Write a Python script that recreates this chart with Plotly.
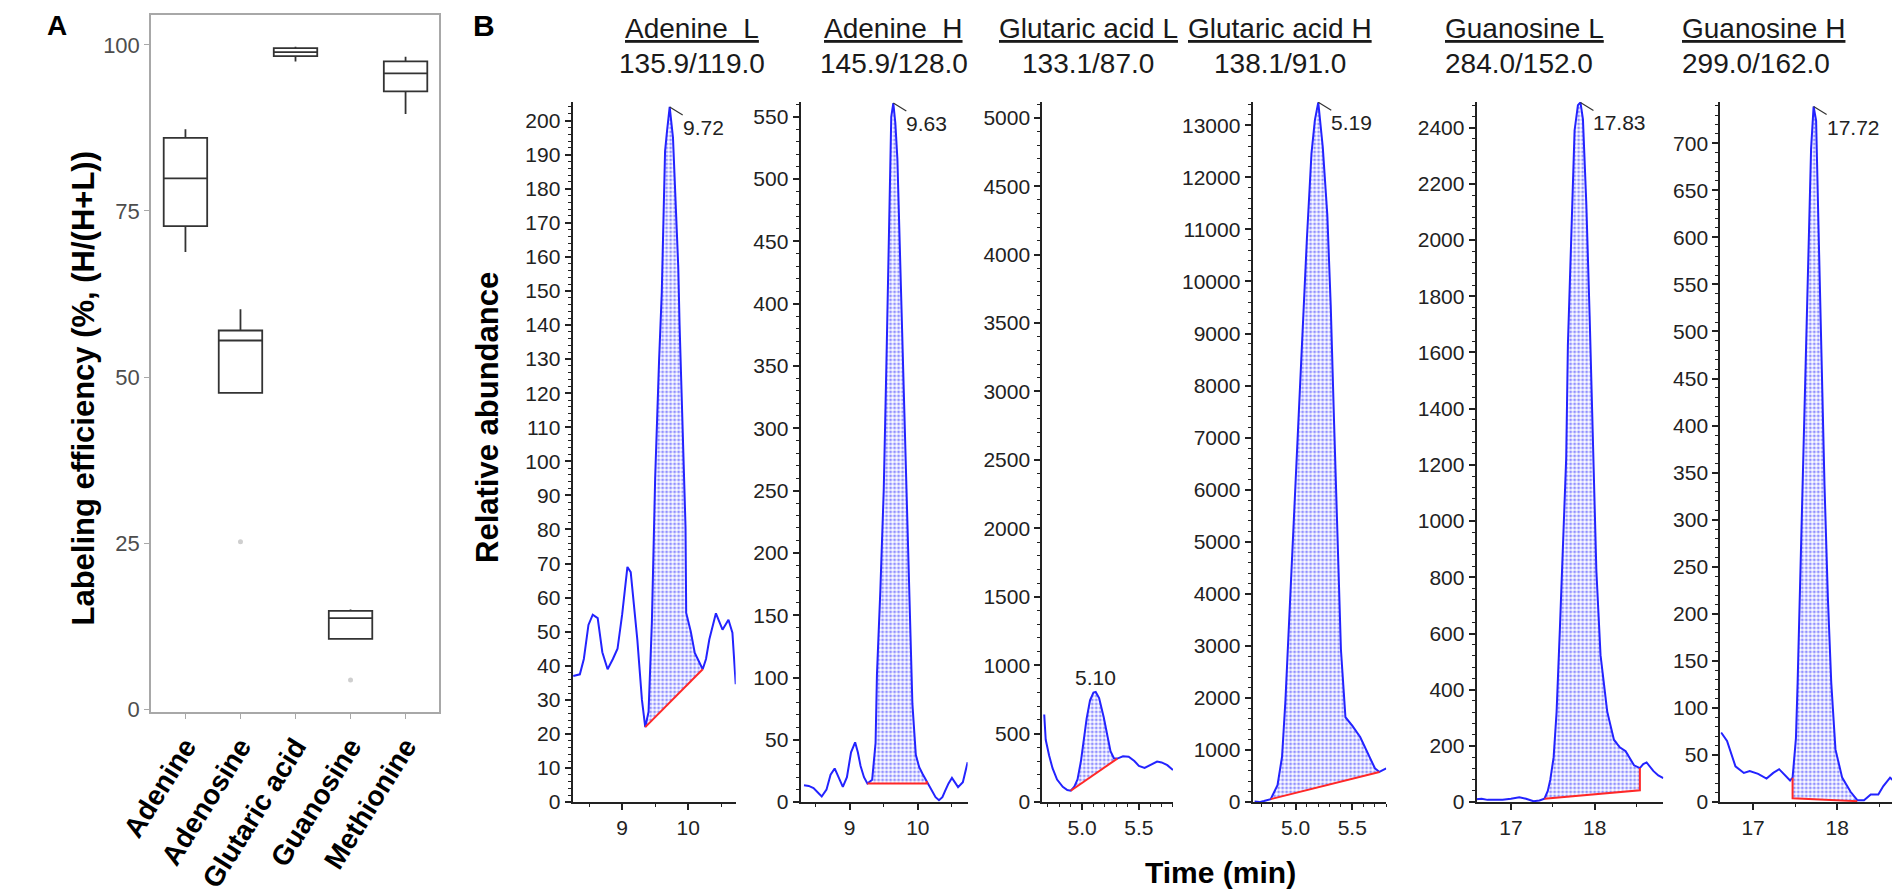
import plotly.graph_objects as go

W, H = 1900, 894

# ---------------- Panel A data ----------------
categories = ["Adenine", "Adenosine", "Glutaric acid", "Guanosine", "Methionine"]
box_q1 = [72.7, 47.6, 98.3, 10.6, 93.0]
box_median = [79.9, 55.5, 98.9, 13.7, 95.7]
box_q3 = [86.0, 57.0, 99.5, 14.8, 97.5]
box_lower = [68.8, 47.6, 97.5, 10.6, 89.6]
box_upper = [87.3, 60.2, 99.7, 15.0, 98.2]
outlier_cat = ["Adenosine", "Guanosine"]
outlier_val = [25.2, 4.4]
a_yticks = [0, 25, 50, 75, 100]

# ---------------- Panel B data ----------------
titles = ["Adenine\u00a0 L", "Adenine\u00a0 H", "Glutaric acid L", "Glutaric acid H",
          "Guanosine L", "Guanosine H"]
transitions = ["135.9/119.0", "145.9/128.0", "133.1/87.0", "138.1/91.0",
               "284.0/152.0", "299.0/162.0"]
peak_labels = ["9.72", "9.63", "5.10", "5.19", "17.83", "17.72"]

adeL_t = [8.26, 8.36, 8.42, 8.49, 8.555, 8.63, 8.70, 8.78, 8.86, 8.93, 9.00, 9.08, 9.13,
          9.18, 9.23, 9.30, 9.35, 9.40, 9.45, 9.50, 9.525, 9.56, 9.60, 9.62, 9.65, 9.68,
          9.72, 9.77, 9.81, 9.85, 9.87, 9.90, 9.92, 9.96, 9.97, 10.04, 10.10, 10.16, 10.22,
          10.27, 10.32, 10.42, 10.52, 10.61, 10.67, 10.72]
adeL_y = [37, 37.5, 42, 52, 55, 54, 44, 39, 42, 45, 55, 69, 67.5, 57, 47.7, 30, 22, 26.5,
          52.6, 95, 110.8, 130, 149.4, 170.7, 191, 197, 204, 195, 178, 157, 140, 118, 105.8,
          80.6, 55.5, 50, 43.8, 41.5, 39, 42, 47.7, 55.4, 50.6, 53.5, 49.7, 34.6]
adeL_bt = [9.35, 10.22]
adeL_by = [22, 39]

adeH_t = [8.33, 8.40, 8.47, 8.53, 8.59, 8.66, 8.72, 8.78, 8.84, 8.90, 8.96, 9.02, 9.08,
          9.12, 9.16, 9.21, 9.26, 9.33, 9.38, 9.40, 9.45, 9.50, 9.54, 9.59, 9.61, 9.64,
          9.67, 9.70, 9.73, 9.78, 9.83, 9.88, 9.92, 9.97, 10.02, 10.07, 10.13, 10.21,
          10.26, 10.31, 10.36, 10.40, 10.45, 10.50, 10.55, 10.59, 10.66, 10.73]
adeH_y = [13.5, 13, 11.3, 8, 4.5, 10, 22, 27, 20, 12.2, 20, 40, 48, 40, 29, 20, 15, 18,
          47.6, 102, 170, 251, 355, 477, 550, 561, 545, 516, 455, 355, 251, 160, 79, 38,
          28, 22.6, 17, 9, 4, 1.5, 4, 9, 15, 19.4, 15, 12, 16, 32]
adeH_bt = [9.26, 10.13, 10.13]
adeH_by = [15, 15, 17]

gluL_t = [4.667, 4.68, 4.71, 4.74, 4.78, 4.83, 4.87, 4.90, 4.93, 4.96, 4.99, 5.015, 5.04,
          5.07, 5.10, 5.12, 5.15, 5.19, 5.22, 5.25, 5.28, 5.31, 5.36, 5.41, 5.46, 5.50,
          5.55, 5.60, 5.66, 5.70, 5.75, 5.80]
gluL_y = [640, 455, 340, 248, 165, 112, 88, 83, 110, 166, 300, 455, 610, 744, 800, 805,
          760, 622, 500, 372, 320, 318, 335, 332, 300, 265, 250, 270, 296, 290, 270, 234]
gluL_bt = [4.90, 5.31]
gluL_by = [83, 318]

gluH_t = [4.638, 4.68, 4.72, 4.78, 4.84, 4.88, 4.91, 4.94, 4.97, 5.01, 5.05, 5.10, 5.14,
          5.17, 5.20, 5.24, 5.28, 5.31, 5.34, 5.37, 5.40, 5.44, 5.50, 5.57, 5.63, 5.70,
          5.74, 5.77, 5.80]
gluH_y = [10, 0, 20, 57, 327, 870, 1950, 3360, 4770, 6610, 8780, 10840, 12460, 13100,
          13440, 12570, 11270, 9540, 7260, 4880, 2930, 1630, 1470, 1250, 980, 650, 580,
          620, 650]
gluH_bt = [4.78, 5.74]
gluH_by = [57, 580]

guaL_t = [16.585, 16.65, 16.72, 16.80, 16.90, 17.00, 17.10, 17.18, 17.27, 17.34, 17.40,
          17.44, 17.47, 17.51, 17.545, 17.585, 17.62, 17.66, 17.68, 17.72, 17.76, 17.80,
          17.83, 17.86, 17.90, 17.94, 17.98, 18.02, 18.07, 18.15, 18.23, 18.30, 18.37,
          18.47, 18.54, 18.58, 18.62, 18.70, 18.76, 18.82]
guaL_y = [10, 12, 8, 7, 8, 12, 17, 12, 3, 6, 12, 40, 80, 160, 320, 620, 925, 1225, 1625,
          2030, 2390, 2480, 2490, 2430, 2130, 1730, 1225, 825, 523, 322, 222, 195, 181,
          131, 121, 135, 141, 111, 95, 85]
guaL_bt = [17.40, 18.54, 18.54]
guaL_by = [12, 42, 121]

guaH_t = [16.62, 16.69, 16.79, 16.89, 16.96, 17.06, 17.16, 17.24, 17.31, 17.38, 17.44,
          17.47, 17.51, 17.53, 17.56, 17.59, 17.63, 17.66, 17.69, 17.72, 17.75, 17.78,
          17.81, 17.85, 17.89, 17.93, 17.98, 18.06, 18.16, 18.24, 18.32, 18.40, 18.49,
          18.55, 18.63, 18.71, 18.82]
guaH_y = [74, 65, 38, 31, 33, 30, 25, 31, 35, 29, 23, 26, 68, 127, 229, 348, 467, 592,
          694, 739, 724, 605, 485, 336, 217, 127, 56, 26, 11, 2, 2, 8, 8, 17, 26, 20, 11]
guaH_bt = [17.47, 17.47, 18.24]
guaH_by = [26, 4, 1]

series = [
    (adeL_t, adeL_y, adeL_bt, adeL_by),
    (adeH_t, adeH_y, adeH_bt, adeH_by),
    (gluL_t, gluL_y, gluL_bt, gluL_by),
    (gluH_t, gluH_y, gluH_bt, gluH_by),
    (guaL_t, guaL_y, guaL_bt, guaL_by),
    (guaH_t, guaH_y, guaH_bt, guaH_by),
]

# ---------------- layout settings (pixels / axis styling) ----------------
x_dom_px = [(541, 707), (773, 943), (1019, 1152), (1233, 1369), (1461, 1651), (1709, 1898)]
x_ranges = [(8.25, 10.72), (8.28, 10.73), (4.65, 5.80), (4.62, 5.80), (16.59, 18.82), (16.61, 18.82)]
x_dticks = [1, 1, 0.5, 0.5, 1, 1]
x_tick0 = [9, 9, 5.0, 5.0, 17, 17]
x_minor = [0.5, 0.5, 0.1, 0.1, 0.5, 0.5]
x_fmt = ["d", "d", ".1f", ".1f", "d", "d"]
y_ranges = [(0, 205.5), (0, 562), (0, 5116), (0, 13450), (0, 2492), (0, 744)]
y_dticks = [10, 50, 500, 1000, 200, 50]
y_minor = [2, 10, 100, 200, 40, 10]
title_x_px = [662, 868, 1066, 1261, 1427, 1668]
title_anchor = ["center", "center", "center", "center", "left", "left"]
label_above = [False, False, True, False, False, False]
y_dom_px = (95, 804)

FONT = "Liberation Sans, Arial, Helvetica, sans-serif"
BLUE = "rgb(35,35,255)"
RED = "rgb(255,40,40)"
AX = "#222222"


def px_x(p):
    return p / W


def px_y(p):
    return 1 - p / H


fig = go.Figure()

# ---------------- Panel A ----------------
fig.add_trace(go.Box(
    x=categories, q1=box_q1, median=box_median, q3=box_q3,
    lowerfence=box_lower, upperfence=box_upper,
    boxpoints=False, fillcolor="white", width=0.79, whiskerwidth=0,
    line=dict(color="#333333", width=1.8),
    xaxis="x", yaxis="y", showlegend=False, hoverinfo="skip"))
fig.add_trace(go.Scatter(
    x=outlier_cat, y=outlier_val, mode="markers",
    marker=dict(color="#cfcfcf", size=5), xaxis="x", yaxis="y", showlegend=False))

axA_common = dict(showline=True, mirror=True, linecolor="#a8a8a8", linewidth=1.6,
                  ticks="outside", ticklen=5, tickwidth=1.4, tickcolor="#a8a8a8",
                  showgrid=False, zeroline=False)
fig.update_layout(
    xaxis=dict(domain=[px_x(112), px_x(405)], anchor="y", type="category",
               categoryorder="array", categoryarray=categories,
               range=[-0.625, 4.607], tickangle=-58,
               tickfont=dict(family=FONT, size=28, color="black", weight="bold"),
               **axA_common),
    yaxis=dict(domain=[px_y(713), px_y(7)], anchor="x", range=[-0.45, 104.5],
               tickvals=a_yticks,
               tickfont=dict(family=FONT, size=22, color="#4d4d4d"),
               **axA_common),
)

annotations = []
shapes = []

# ---------------- Panel B ----------------
for i, (t, y, bt, by) in enumerate(series):
    k = i + 2
    xr, yr = f"x{k}", f"y{k}"
    # fill polygon between curve and baseline
    seg = [(tt, yy) for tt, yy in zip(t, y) if bt[0] - 1e-9 <= tt <= bt[-1] + 1e-9]
    px_ = [s[0] for s in seg] + list(reversed(bt))
    py_ = [s[1] for s in seg] + list(reversed(by))
    fig.add_trace(go.Scatter(
        x=px_, y=py_, mode="lines", fill="toself", fillcolor="white",
        fillpattern=dict(shape=".", fgcolor=BLUE, bgcolor="white", size=4, solidity=0.45),
        line=dict(width=0), xaxis=xr, yaxis=yr, showlegend=False, hoverinfo="skip"))
    fig.add_trace(go.Scatter(
        x=t, y=y, mode="lines", line=dict(color=BLUE, width=2),
        xaxis=xr, yaxis=yr, showlegend=False))
    fig.add_trace(go.Scatter(
        x=bt, y=by, mode="lines", line=dict(color=RED, width=2),
        xaxis=xr, yaxis=yr, showlegend=False))

    x0, x1 = x_dom_px[i]
    fig.layout[f"xaxis{k}"] = dict(
        domain=[px_x(x0), px_x(x1)], anchor=yr, range=list(x_ranges[i]),
        tick0=x_tick0[i], dtick=x_dticks[i], tickformat=x_fmt[i],
        showline=True, linecolor=AX, linewidth=2, ticks="outside", ticklen=6,
        tickwidth=1.5, tickcolor=AX, showgrid=False, zeroline=False,
        minor=dict(dtick=x_minor[i], ticks="outside", ticklen=3, tickcolor=AX,
                   tickwidth=1.2, showgrid=False),
        tickfont=dict(family=FONT, size=21, color=AX))
    fig.layout[f"yaxis{k}"] = dict(
        domain=[px_y(y_dom_px[1]), px_y(y_dom_px[0])], anchor=xr, range=list(y_ranges[i]),
        tick0=0, dtick=y_dticks[i], tickformat="d",
        showline=True, linecolor=AX, linewidth=2, ticks="outside", ticklen=6,
        tickwidth=1.5, tickcolor=AX, showgrid=False, zeroline=False,
        minor=dict(dtick=y_minor[i], ticks="outside", ticklen=3, tickcolor=AX,
                   tickwidth=1.2, showgrid=False),
        tickfont=dict(family=FONT, size=21, color=AX))

    # titles
    annotations.append(dict(
        text=f"<u>{titles[i]}</u>", xref="paper", yref="paper",
        x=px_x(title_x_px[i]), y=px_y(21), xanchor=title_anchor[i], yanchor="middle",
        showarrow=False, font=dict(family=FONT, size=28, color="#1a1a1a")))
    annotations.append(dict(
        text=transitions[i], xref="paper", yref="paper",
        x=px_x(title_x_px[i]), y=px_y(56), xanchor=title_anchor[i], yanchor="middle",
        showarrow=False, font=dict(family=FONT, size=28, color="#1a1a1a")))

    # peak label
    j = max(range(len(y)), key=lambda m: y[m])
    pt, ph = t[j], y[j]
    if label_above[i]:
        annotations.append(dict(
            text=peak_labels[i], x=pt, y=ph, xref=xr, yref=yr, xanchor="center",
            yanchor="bottom", yshift=1, showarrow=False,
            font=dict(family=FONT, size=21, color=AX)))
    else:
        annotations.append(dict(
            text=peak_labels[i], x=pt, y=ph, xref=xr, yref=yr, xanchor="left",
            yanchor="top", xshift=11, yshift=-7, showarrow=False,
            font=dict(family=FONT, size=21, color=AX)))
        shapes.append(dict(
            type="line", xref=xr, yref=yr, xsizemode="pixel", ysizemode="pixel",
            xanchor=pt, yanchor=ph, x0=0, y0=0, x1=13, y1=-8,
            line=dict(color="#333333", width=1.2)))

# axis titles / panel letters
annotations += [
    dict(text="<b>Labeling efficiency (%, (H/(H+L))</b>", xref="paper", yref="paper",
         x=px_x(43), y=px_y(385), xanchor="center", yanchor="middle", textangle=-90,
         showarrow=False, font=dict(family=FONT, size=31, color="black")),
    dict(text="<b>Relative abundance</b>", xref="paper", yref="paper",
         x=px_x(455), y=px_y(415), xanchor="center", yanchor="middle", textangle=-90,
         showarrow=False, font=dict(family=FONT, size=31, color="black")),
    dict(text="<b>Time (min)</b>", xref="paper", yref="paper",
         x=px_x(1200), y=px_y(875), xanchor="center", yanchor="middle",
         showarrow=False, font=dict(family=FONT, size=30, color="black")),
    dict(text="<b>A</b>", xref="paper", yref="paper", x=px_x(16), y=px_y(18),
         xanchor="center", yanchor="middle",
         showarrow=False, font=dict(family=FONT, size=28, color="black")),
    dict(text="<b>B</b>", xref="paper", yref="paper", x=px_x(451), y=px_y(18),
         xanchor="center", yanchor="middle",
         showarrow=False, font=dict(family=FONT, size=30, color="black")),
]

fig.update_layout(
    width=W, height=H, margin=dict(l=0, r=0, t=0, b=0),
    paper_bgcolor="white", plot_bgcolor="white", showlegend=False,
    annotations=annotations, shapes=shapes,
    font=dict(family=FONT),
)

fig.write_html("out.html")
